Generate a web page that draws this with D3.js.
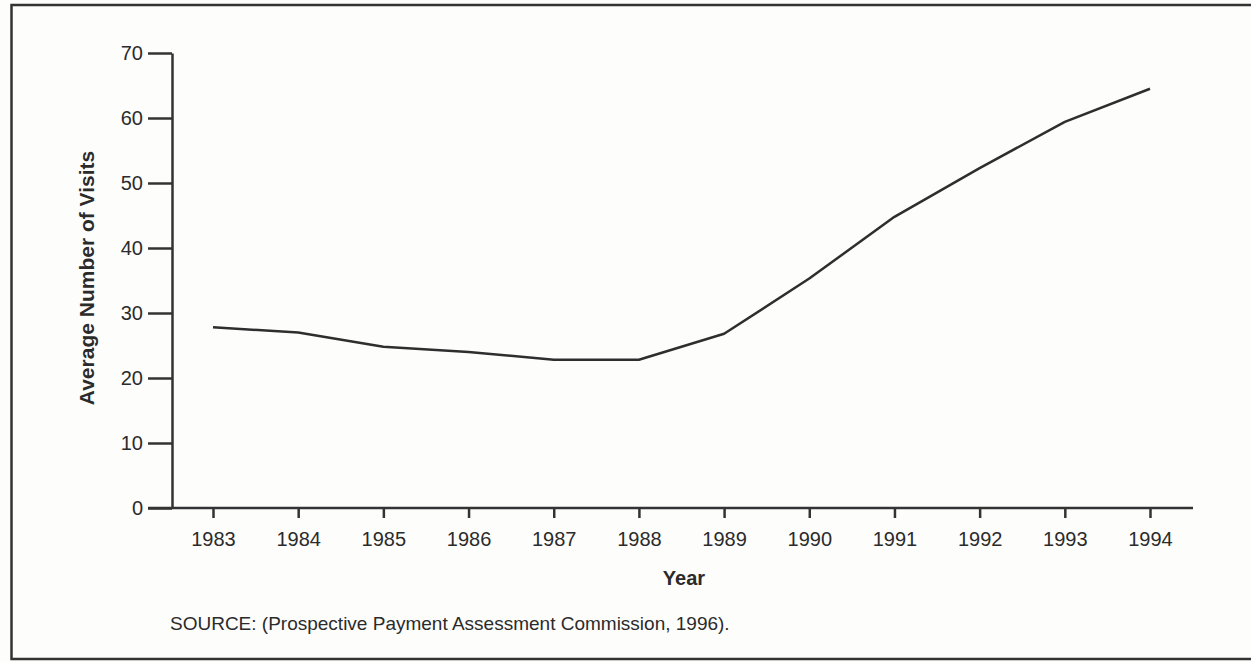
<!DOCTYPE html>
<html>
<head>
<meta charset="utf-8">
<script src="https://cdn.jsdelivr.net/npm/d3@7"></script>
<style>
  body { margin: 0; background: #fdfdfc; }
  #chart { width: 1251px; height: 662px; }
  text { font-family: "Liberation Sans", Arial, Helvetica, sans-serif; fill: #2b2b2b; }
</style>
</head>
<body>
<div id="chart"></div>
<script>

// values
let years = [1983, 1984, 1985, 1986, 1987, 1988, 1989, 1990, 1991, 1992, 1993, 1994];
let visits = [27.8, 27.0, 24.8, 24.0, 22.8, 22.8, 26.8, 35.3, 44.8, 52.3, 59.4, 64.5];
let yTicks = [0, 10, 20, 30, 40, 50, 60, 70];

let lineData = [];
for (let i = 0; i < years.length; i++) {
    lineData.push({ "year": years[i], "value": visits[i] });
}

const wd = 1251;
const ht = 662;

const svg = d3.select('#chart').append("svg")
    .attr("width", wd)
    .attr("height", ht);

// frame round the figure
svg.append("rect")
    .attr("x", 11.5)
    .attr("y", 5)
    .attr("width", 1260)
    .attr("height", 654)
    .attr("fill", "none")
    .attr("stroke", "#333")
    .attr("stroke-width", 2.5);

const x = d3.scaleLinear().domain([1983, 1994]).range([213, 1150]);
const y = d3.scaleLinear().domain([0, 70]).range([508, 53]);

// y axis
const yAxis = svg.append("g")
    .attr("transform", "translate(172,0)")
    .call(d3.axisLeft(y).tickValues(yTicks).tickSize(24).tickSizeOuter(0).tickPadding(5));
yAxis.select(".domain").attr("stroke", "#333").attr("stroke-width", 2.5);
yAxis.selectAll(".tick line").attr("stroke", "#333").attr("stroke-width", 2.5);
yAxis.selectAll(".tick text")
    .attr("font-size", 20)
    .attr("fill", "#2b2b2b")
    .style("font-family", '"Liberation Sans", Arial, sans-serif');

// x axis, the baseline runs out to the left under the 0 tick
const xAxis = svg.append("g")
    .attr("transform", "translate(0,508)")
    .call(d3.axisBottom(x).tickValues(years).tickFormat(d3.format("d")).tickSize(10).tickSizeOuter(0).tickPadding(14));
xAxis.select(".domain").remove();
xAxis.append("line")
    .attr("x1", 148).attr("x2", 1193)
    .attr("y1", 0).attr("y2", 0)
    .attr("stroke", "#333")
    .attr("stroke-width", 2.5);
xAxis.selectAll(".tick line").attr("stroke", "#333").attr("stroke-width", 2.5);
xAxis.selectAll(".tick text")
    .attr("font-size", 20)
    .attr("fill", "#2b2b2b")
    .style("font-family", '"Liberation Sans", Arial, sans-serif');

// data line
const line = d3.line()
    .x(d => x(d.year))
    .y(d => y(d.value));

svg.append("path")
    .datum(lineData)
    .attr("d", line)
    .attr("fill", "none")
    .attr("stroke", "#2e2e2e")
    .attr("stroke-width", 2.5)
    .attr("stroke-linejoin", "round");

// axis titles
svg.append("text")
    .attr("transform", "translate(94,278) rotate(-90)")
    .attr("text-anchor", "middle")
    .attr("font-size", 21)
    .attr("font-weight", "bold")
    .text("Average Number of Visits");

svg.append("text")
    .attr("x", 684)
    .attr("y", 585)
    .attr("text-anchor", "middle")
    .attr("font-size", 20)
    .attr("font-weight", "bold")
    .text("Year");

svg.append("text")
    .attr("x", 170)
    .attr("y", 630)
    .attr("font-size", 19)
    .text("SOURCE: (Prospective Payment Assessment Commission, 1996).");

</script>
</body>
</html>
